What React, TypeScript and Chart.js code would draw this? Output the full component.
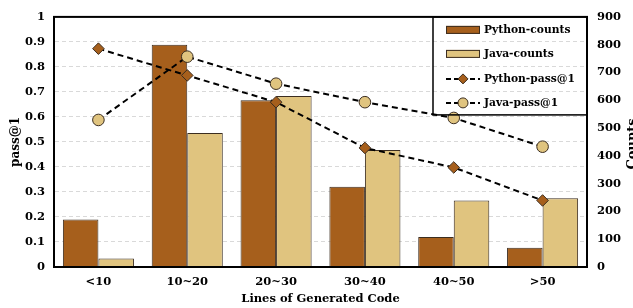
import React, { useEffect, useRef } from "react";
import { Chart, registerables } from "chart.js";

Chart.register(...registerables);

const categories = ["<10", "10~20", "20~30", "30~40", "40~50", ">50"];
const pythonCounts = [171, 800, 600, 289, 108, 69];
const javaCounts = [31, 482, 615, 421, 239, 247];
const pythonPass = [0.873, 0.766, 0.659, 0.476, 0.398, 0.266];
const javaPass = [0.588, 0.841, 0.733, 0.659, 0.596, 0.481];
const leftTicks = [0, 0.1, 0.2, 0.3, 0.4, 0.5, 0.6, 0.7, 0.8, 0.9, 1];
const leftTickLabels = ["0", "0.1", "0.2", "0.3", "0.4", "0.5", "0.6", "0.7", "0.8", "0.9", "1"];
const rightTicks = [0, 100, 200, 300, 400, 500, 600, 700, 800, 900];

const BROWN = "#A65F1C";
const TAN = "#E0C47F";
const EDGE = "#3b2d20";
const FONT = "'DejaVu Serif', 'Liberation Serif', serif";

const legendItems = [
  { label: "Python-counts", kind: "bar", color: BROWN },
  { label: "Java-counts", kind: "bar", color: TAN },
  { label: "Python-pass@1", kind: "diamond", color: BROWN },
  { label: "Java-pass@1", kind: "circle", color: TAN },
];

const framePlugin = {
  id: "frameAndLegend",
  afterDraw(chart: any) {
    const { ctx, chartArea } = chart;
    const { left, right, top, bottom } = chartArea;
    ctx.save();
    ctx.strokeStyle = "#000";
    ctx.lineWidth = 2;
    ctx.setLineDash([]);
    ctx.strokeRect(left, top, right - left, bottom - top);

    // right axis title, reading bottom-to-top
    ctx.save();
    ctx.translate(633, (top + bottom) / 2 + 2);
    ctx.rotate(-Math.PI / 2);
    ctx.font = `bold 13px ${FONT}`;
    ctx.fillStyle = "#000";
    ctx.textAlign = "center";
    ctx.textBaseline = "middle";
    ctx.fillText("Counts", 0, 0);
    ctx.restore();

    // legend box
    const lx = right - 154;
    const ly = top;
    const lw = 154;
    const lh = 98;
    ctx.lineWidth = 1.5;
    ctx.strokeStyle = "#000";
    ctx.strokeRect(lx, ly, lw, lh);
    const rows = [13, 37, 62, 86];
    ctx.font = `bold 10.7px ${FONT}`;
    ctx.textBaseline = "middle";
    ctx.textAlign = "left";
    legendItems.forEach((it, i) => {
      const cy = ly + rows[i];
      const sx = lx + 13;
      const ex = lx + 47;
      if (it.kind === "bar") {
        ctx.fillStyle = it.color;
        ctx.fillRect(sx, cy - 4, ex - sx, 8);
        ctx.strokeStyle = EDGE;
        ctx.lineWidth = 1;
        ctx.strokeRect(sx + 0.5, cy - 3.5, ex - sx - 1, 7);
      } else {
        ctx.strokeStyle = "#000";
        ctx.lineWidth = 2;
        ctx.setLineDash([5, 3]);
        ctx.beginPath();
        ctx.moveTo(sx, cy);
        ctx.lineTo(ex, cy);
        ctx.stroke();
        ctx.setLineDash([]);
        const mx = (sx + ex) / 2;
        ctx.fillStyle = it.color;
        ctx.strokeStyle = EDGE;
        ctx.lineWidth = 1;
        ctx.beginPath();
        if (it.kind === "diamond") {
          ctx.moveTo(mx, cy - 5);
          ctx.lineTo(mx + 5, cy);
          ctx.lineTo(mx, cy + 5);
          ctx.lineTo(mx - 5, cy);
          ctx.closePath();
        } else {
          ctx.arc(mx, cy, 5, 0, Math.PI * 2);
        }
        ctx.fill();
        ctx.stroke();
      }
      ctx.fillStyle = "#000";
      ctx.fillText(it.label, ex + 4, cy);
    });
    ctx.restore();
  },
};

export default function App() {
  const ref = useRef<HTMLCanvasElement>(null);
  useEffect(() => {
    if (!ref.current) return;
    const chart = new Chart(ref.current, {
      type: "bar",
      data: {
        labels: categories,
        datasets: [
          {
            type: "line",
            label: "Python-pass@1",
            data: pythonPass,
            yAxisID: "y",
            borderColor: "#000",
            borderWidth: 2,
            borderDash: [6, 4],
            pointStyle: "rectRot",
            pointRadius: 5.8,
            pointBackgroundColor: BROWN,
            pointBorderColor: EDGE,
            pointBorderWidth: 1,
            order: 1,
          } as any,
          {
            type: "line",
            label: "Java-pass@1",
            data: javaPass,
            yAxisID: "y",
            borderColor: "#000",
            borderWidth: 2,
            borderDash: [6, 4],
            pointStyle: "circle",
            pointRadius: 5.8,
            pointBackgroundColor: TAN,
            pointBorderColor: EDGE,
            pointBorderWidth: 1,
            order: 1,
          } as any,
          {
            type: "bar",
            label: "Python-counts",
            data: pythonCounts,
            yAxisID: "y1",
            backgroundColor: BROWN,
            borderColor: EDGE,
            borderWidth: 1,
            categoryPercentage: 0.8,
            barPercentage: 1.0,
            order: 2,
          },
          {
            type: "bar",
            label: "Java-counts",
            data: javaCounts,
            yAxisID: "y1",
            backgroundColor: TAN,
            borderColor: EDGE,
            borderWidth: 1,
            categoryPercentage: 0.8,
            barPercentage: 1.0,
            order: 2,
          },
        ],
      },
      options: {
        responsive: false,
        animation: false,
        layout: { padding: { top: 15, left: 0, right: 0, bottom: 0 } },
        plugins: {
          legend: { display: false },
          tooltip: { enabled: false },
        },
        scales: {
          x: {
            grid: { display: false, drawTicks: false },
            border: { display: false },
            ticks: {
              color: "#000",
              font: { family: FONT, weight: "bold", size: 11.5 },
              padding: 8,
            },
            title: {
              display: true,
              text: "Lines of Generated Code",
              color: "#000",
              font: { family: FONT, weight: "bold", size: 11.5 },
              padding: { top: 0, bottom: 2 },
            },
            afterFit: (s: any) => {
              s.height = 41;
            },
          },
          y: {
            position: "left",
            min: 0,
            max: 1,
            afterBuildTicks: (s: any) => {
              s.ticks = leftTicks.map((v) => ({ value: v }));
            },
            grid: { color: "#d9d9d9", drawTicks: false, lineWidth: 1 },
            border: { display: true, dash: [4, 3], color: "#000", width: 1 },
            ticks: {
              color: "#000",
              font: { family: FONT, weight: "bold", size: 11.5 },
              padding: 9,
              callback: (_v: any, i: number) => leftTickLabels[i],
            },
            title: {
              display: true,
              text: "pass@1",
              color: "#000",
              font: { family: FONT, weight: "bold", size: 12 },
              padding: { top: 9, bottom: 0 },
            },
            afterFit: (s: any) => {
              s.width = 54;
            },
          },
          y1: {
            position: "right",
            min: 0,
            max: 900,
            afterBuildTicks: (s: any) => {
              s.ticks = rightTicks.map((v) => ({ value: v }));
            },
            grid: { display: false, drawTicks: false },
            border: { display: false },
            ticks: {
              color: "#000",
              font: { family: FONT, weight: "bold", size: 11.5 },
              padding: 10,
            },
            title: { display: false },
            afterFit: (s: any) => {
              s.width = 46;
            },
          },
        },
      },
      plugins: [framePlugin],
    });
    return () => chart.destroy();
  }, []);
  return (
    <div style={{ position: "absolute", left: 0, top: 0, width: 633, height: 308, background: "#fff" }}>
      <canvas ref={ref} width={633} height={308} />
    </div>
  );
}
